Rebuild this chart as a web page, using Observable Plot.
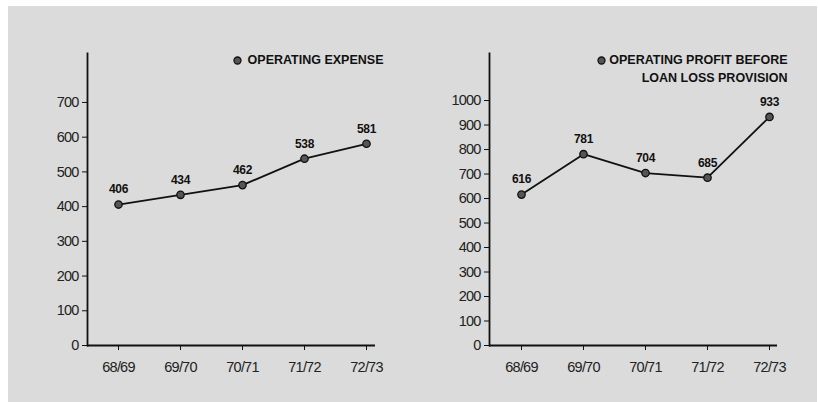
<!DOCTYPE html>
<html>
<head>
<meta charset="utf-8">
<script src="https://cdn.jsdelivr.net/npm/d3@7"></script>
<script src="https://cdn.jsdelivr.net/npm/@observablehq/plot@0.6"></script>
<style>
  body { margin: 0; background: #ffffff; }
  #panel { position: absolute; left: 8px; top: 6px; width: 809px; height: 396px; background: #dbdbdb; }
  #left { position: absolute; left: 0; top: 0; }
  #right { position: absolute; left: 400px; top: 0; }
  /* tighter, condensed-looking numerals on the axes and point labels */
  #panel g[aria-label="x-axis tick label"], #panel g[aria-label="y-axis tick label"] { letter-spacing: -0.8px; }
  #panel g.value-labels { letter-spacing: -0.4px; }
</style>
</head>
<body>
<div id="panel"><div id="left"></div><div id="right"></div></div>
<script>
// Fiscal years on the horizontal axis
const years = ["68/69", "69/70", "70/71", "71/72", "72/73"];

// Series values
const operatingExpense = [406, 434, 462, 538, 581];
const operatingProfit = [616, 781, 704, 685, 933];

// Vertical axis ticks
const expenseTicks = [0, 100, 200, 300, 400, 500, 600, 700];
const profitTicks = [0, 100, 200, 300, 400, 500, 600, 700, 800, 900, 1000];

// Legend captions
const expenseLegend = "OPERATING EXPENSE";
const profitLegend = "OPERATING PROFIT BEFORE\nLOAN LOSS PROVISION";

const tickFont = "'Liberation Sans Narrow', 'Arial Narrow', 'Liberation Sans', sans-serif";
const boldFont = "'Liberation Sans', Arial, Helvetica, sans-serif";
const ink = "#111";

function lineChart({values, ticks, yMax, legend, width, marginLeft, marginRight, xRange, legendDx, legendDotDx}) {
  const rows = years.map((year, i) => ({year, value: values[i]}));
  return Plot.plot({
    width,
    height: 396,
    marginTop: 47,
    marginBottom: 57,
    marginLeft,
    marginRight,
    style: {background: "transparent", color: ink, fontFamily: tickFont, fontSize: "14.5px", overflow: "visible"},
    x: {type: "point", domain: years, range: xRange, padding: 0, label: null},
    y: {domain: [0, yMax], label: null},
    marks: [
      Plot.frame({anchor: "left", stroke: ink, strokeWidth: 1.8}),
      Plot.ruleY([0], {stroke: ink, strokeWidth: 1.8}),
      Plot.axisY({ticks, tickFormat: d => String(d), tickSize: 5, tickPadding: 4, stroke: ink, fill: "#222",
        fontFamily: tickFont, fontSize: 14.5}),
      Plot.axisX({tickSize: 5, tickPadding: 11, stroke: ink, fill: "#222", fontFamily: tickFont, fontSize: 14.5}),
      Plot.line(rows, {x: "year", y: "value", stroke: ink, strokeWidth: 1.8}),
      Plot.dot(rows, {x: "year", y: "value", r: 3.7, fill: "#555", stroke: ink, strokeWidth: 1.3}),
      Plot.text(rows, {x: "year", y: "value", text: d => String(d.value), dy: -15, className: "value-labels",
        fontWeight: "bold", fontSize: 12, fontFamily: tickFont, fill: ink}),
      Plot.text([legend], {frameAnchor: "top-right", dx: legendDx, dy: -2, textAnchor: "end", lineAnchor: "top",
        lineHeight: 1.44, fontWeight: "bold", fontSize: 12.5, fontFamily: boldFont, fill: ink}),
      Plot.dot([legend], {frameAnchor: "top-right", dx: legendDotDx, dy: 7, r: 3.5, fill: "#555", stroke: ink, strokeWidth: 1.3})
    ]
  });
}

document.getElementById("left").append(lineChart({
  values: operatingExpense, ticks: expenseTicks, yMax: 841, legend: expenseLegend,
  width: 400, marginLeft: 79, marginRight: 33, xRange: [110, 358], legendDx: 8, legendDotDx: -138
}));

document.getElementById("right").append(lineChart({
  values: operatingProfit, ticks: profitTicks, yMax: 1192, legend: profitLegend,
  width: 409, marginLeft: 81, marginRight: 40, xRange: [113, 361], legendDx: 10, legendDotDx: -176
}));
</script>
</body>
</html>
